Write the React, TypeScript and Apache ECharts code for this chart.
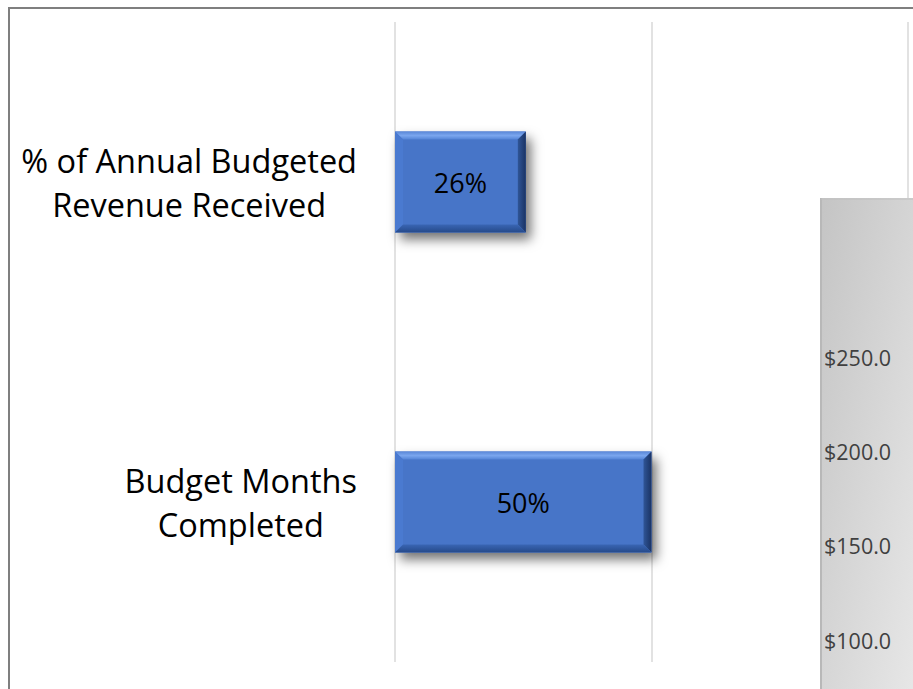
import React, { useEffect, useRef } from "react";
import * as echarts from "echarts";

const categories = ["% of Annual Budgeted\nRevenue Received", "Budget Months\nCompleted"];
const values = [0.255, 0.5];
const xTicks = [0, 0.5, 1];
const sideTicks = [100, 150, 200, 250];

export default function App() {
  const ref = useRef<HTMLDivElement>(null);
  useEffect(() => {
    if (!ref.current) return;
    const chart = echarts.init(ref.current, null, { renderer: "svg" });
    const bevel = 8;
    chart.setOption({
      animation: false,
      backgroundColor: "#ffffff",
      grid: [
        { left: 395, width: 513, top: 22, height: 640 },
        { left: 822, width: 80, top: 357, height: 283 },
      ],
      xAxis: [
        {
          gridIndex: 0,
          type: "value",
          min: xTicks[0],
          max: xTicks[xTicks.length - 1],
          interval: 0.5,
          axisLabel: { show: false },
          axisLine: { show: false },
          axisTick: { show: false },
          splitLine: { show: true, lineStyle: { color: "#d9d9d9", width: 1.5 } },
        },
        { gridIndex: 1, type: "value", show: false },
      ],
      yAxis: [
        {
          gridIndex: 0,
          type: "category",
          inverse: true,
          data: categories,
          axisLine: { show: false },
          axisTick: { show: false },
          axisLabel: {
            margin: 38,
            color: "#000000",
            fontFamily: "Open Sans",
            fontSize: 32.5,
            lineHeight: 44,
            align: "right",
            formatter: (v: string) =>
              v
                .split("\n")
                .map((l) => "{c|" + l + "}")
                .join("\n"),
            rich: {
              c: {
                align: "center",
                color: "#000000",
                fontFamily: "Open Sans",
                fontSize: 32.5,
                lineHeight: 44,
              },
            },
          },
        },
        {
          gridIndex: 1,
          type: "value",
          min: sideTicks[0],
          max: sideTicks[sideTicks.length - 1],
          interval: 50,
          z: 20,
          axisLine: { show: false },
          axisTick: { show: false },
          splitLine: { show: false },
          axisLabel: {
            inside: true,
            margin: 2,
            color: "#404040",
            fontFamily: "Open Sans",
            fontSize: 21.5,
            formatter: (v: number) => "$" + v.toFixed(1),
          },
        },
      ],
      graphic: [
        {
          type: "rect",
          z: 10,
          shape: { x: 820, y: 198, width: 100, height: 500 },
          style: {
            fill: new echarts.graphic.LinearGradient(0, 0, 1, 1, [
              { offset: 0, color: "#c4c4c4" },
              { offset: 1, color: "#e8e8e8" },
            ]),
          },
        },
        {
          type: "line",
          z: 11,
          shape: { x1: 821, y1: 198, x2: 821, y2: 700 },
          style: { stroke: "#b8b8b8", lineWidth: 2 },
        },
        {
          type: "line",
          z: 11,
          shape: { x1: 821, y1: 199, x2: 920, y2: 199 },
          style: { stroke: "#c0c0c0", lineWidth: 1 },
        },
        {
          type: "polyline",
          z: 12,
          shape: { points: [[9, 700], [9, 8], [920, 8]] },
          style: { stroke: "#7f7f7f", lineWidth: 2, fill: "none" },
        },
      ],
      series: [
        {
          type: "custom",
          xAxisIndex: 0,
          yAxisIndex: 0,
          data: values.map((v, i) => [v, i]),
          encode: { x: 0, y: 1 },
          renderItem: (params: any, api: any) => {
            const v = api.value(0);
            const c = api.value(1);
            const s = api.coord([0, c]);
            const e = api.coord([v, c]);
            const h = api.size([0, 1])[1] * 0.315;
            const x0 = s[0];
            const x1 = e[0];
            const y0 = s[1] - h / 2;
            const y1 = s[1] + h / 2;
            const b = bevel;
            return {
              type: "group",
              children: [
                {
                  type: "rect",
                  shape: { x: x0, y: y0, width: x1 - x0, height: h },
                  style: {
                    fill: "#4675c8",
                    shadowBlur: 12,
                    shadowOffsetX: 5,
                    shadowOffsetY: 7,
                    shadowColor: "rgba(0,0,0,0.55)",
                  },
                },
                {
                  type: "polygon",
                  shape: { points: [[x0, y0], [x1, y0], [x1 - b, y0 + b], [x0 + b, y0 + b]] },
                  style: {
                    fill: new echarts.graphic.LinearGradient(0, 0, 0, 1, [
                      { offset: 0, color: "#5a88d8" },
                      { offset: 0.5, color: "#7aa6ee" },
                      { offset: 1, color: "#5283d6" },
                    ]),
                  },
                },
                {
                  type: "polygon",
                  shape: { points: [[x0, y0], [x0 + b, y0 + b], [x0 + b, y1 - b], [x0, y1]] },
                  style: { fill: "#4a7ad0" },
                },
                {
                  type: "polygon",
                  shape: { points: [[x1, y0], [x1, y1], [x1 - b, y1 - b], [x1 - b, y0 + b]] },
                  style: {
                    fill: new echarts.graphic.LinearGradient(0, 0, 1, 0, [
                      { offset: 0, color: "#2f5597" },
                      { offset: 1, color: "#1a3364" },
                    ]),
                  },
                },
                {
                  type: "polygon",
                  shape: { points: [[x0, y1], [x0 + b, y1 - b], [x1 - b, y1 - b], [x1, y1]] },
                  style: {
                    fill: new echarts.graphic.LinearGradient(0, 0, 0, 1, [
                      { offset: 0, color: "#3a66b4" },
                      { offset: 1, color: "#264a8a" },
                    ]),
                  },
                },
                {
                  type: "text",
                  style: {
                    text: Math.round(v * 100) + "%",
                    x: (x0 + x1) / 2,
                    y: s[1],
                    align: "center",
                    verticalAlign: "middle",
                    fill: "#000000",
                    fontFamily: "Open Sans",
                    fontSize: 27,
                  },
                },
              ],
            };
          },
        },
      ],
    });
    return () => chart.dispose();
  }, []);
  return (
    <div
      ref={ref}
      style={{ position: "fixed", left: 0, top: 0, width: 913, height: 689 }}
    />
  );
}
